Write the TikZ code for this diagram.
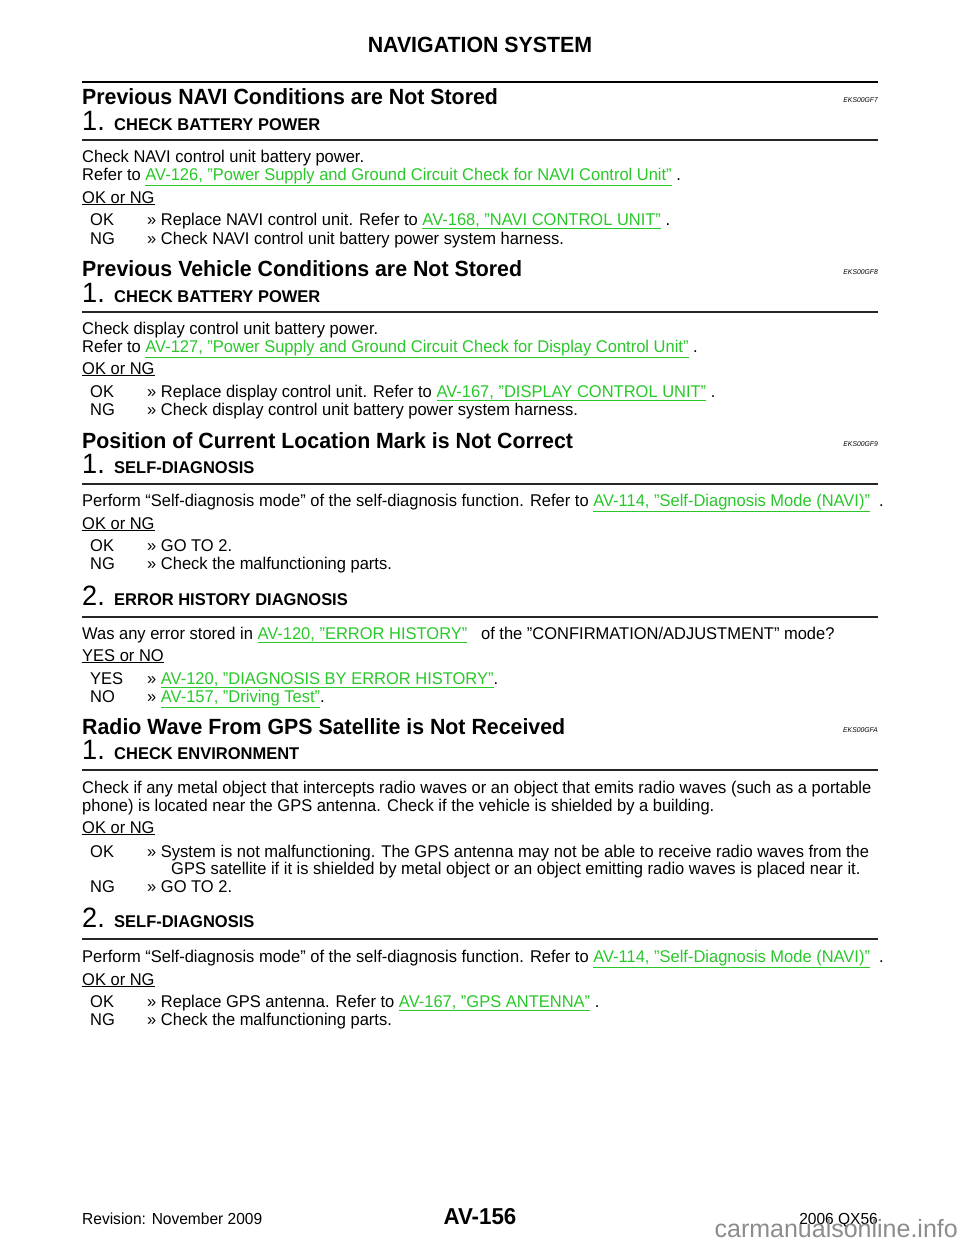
\documentclass[tikz,border=0pt]{standalone}
\usepackage{fontspec}
\setmainfont{Liberation Sans}[FakeStretch=0.97, Ligatures=ResetAll]
\newfontfamily\wmfont{Liberation Sans}
\definecolor{linkgreen}{RGB}{40,200,40}
\newcommand{\lnk}[1]{\textcolor{linkgreen}{\underline{#1}}}
\begin{document}
\begin{tikzpicture}[
    x=1pt, y=-1pt,
    txt/.style={anchor=base west, inner sep=0pt, font=\fontsize{17}{20}\selectfont},
    sechead/.style={anchor=base west, inner sep=0pt, font=\fontsize{22}{24}\selectfont\bfseries},
    stepnum/.style={anchor=base west, inner sep=0pt, font=\fontsize{28}{30}\selectfont},
    steptitle/.style={anchor=base west, inner sep=0pt, font=\fontsize{17}{20}\selectfont\bfseries},
    code/.style={anchor=base east, inner sep=0pt, font=\fontsize{7}{8}\selectfont\itshape},
    steprule/.style={line width=1.4pt, black!85},
]
\useasboundingbox (0,0) rectangle (960,1242);

% Kopf
\node[anchor=base, inner sep=0pt, font=\fontsize{22}{24}\selectfont\bfseries] (title) at (480,52) {NAVIGATION SYSTEM};
\draw[line width=2.5pt] (82,82) -- (878,82);

% Abschnitt 1
\node[sechead] (h1) at (82,104) {Previous NAVI Conditions are Not Stored};
\node[code] (c1) at (878,102) {EKS00GF7};
\node[stepnum] (n11) at (82,130) {1.};
\node[steptitle] (t11) at (114,130) {CHECK BATTERY POWER};
\draw[steprule] (82,140) -- (878,140);
\node[txt] (a1) at (82,162) {Check NAVI control unit battery power.};
\node[txt] (a2) at (82,180) {Refer to \lnk{AV-126, "Power Supply and Ground Circuit Check for NAVI Control Unit"} .};
\node[txt] (a3) at (82,203) {\underline{OK or NG}};
\node[txt] (a4) at (90,225) {OK};
\node[txt] (a5) at (147,225) {>> Replace NAVI control unit. Refer to \lnk{AV-168, "NAVI CONTROL UNIT"} .};
\node[txt] (a6) at (90,244) {NG};
\node[txt] (a7) at (147,244) {>> Check NAVI control unit battery power system harness.};

% Abschnitt 2
\node[sechead] (h2) at (82,276) {Previous Vehicle Conditions are Not Stored};
\node[code] (c2) at (878,274) {EKS00GF8};
\node[stepnum] (n21) at (82,302) {1.};
\node[steptitle] (t21) at (114,302) {CHECK BATTERY POWER};
\draw[steprule] (82,312) -- (878,312);
\node[txt] (b1) at (82,334) {Check display control unit battery power.};
\node[txt] (b2) at (82,352) {Refer to \lnk{AV-127, "Power Supply and Ground Circuit Check for Display Control Unit"} .};
\node[txt] (b3) at (82,374) {\underline{OK or NG}};
\node[txt] (b4) at (90,397) {OK};
\node[txt] (b5) at (147,397) {>> Replace display control unit. Refer to \lnk{AV-167, "DISPLAY CONTROL UNIT"} .};
\node[txt] (b6) at (90,415) {NG};
\node[txt] (b7) at (147,415) {>> Check display control unit battery power system harness.};

% Abschnitt 3
\node[sechead] (h3) at (82,448) {Position of Current Location Mark is Not Correct};
\node[code] (c3) at (878,446) {EKS00GF9};
\node[stepnum] (n31) at (82,473) {1.};
\node[steptitle] (t31) at (114,473) {SELF-DIAGNOSIS};
\draw[steprule] (82,484) -- (878,484);
\node[txt] (d1) at (82,506) {Perform “Self-diagnosis mode” of the self-diagnosis function. Refer to \lnk{AV-114, "Self-Diagnosis Mode (NAVI)"} \ .};
\node[txt] (d2) at (82,529) {\underline{OK or NG}};
\node[txt] (d3) at (90,551) {OK};
\node[txt] (d4) at (147,551) {>> GO TO 2.};
\node[txt] (d5) at (90,569) {NG};
\node[txt] (d6) at (147,569) {>> Check the malfunctioning parts.};
\node[stepnum] (n32) at (82,605) {2.};
\node[steptitle] (t32) at (114,605) {ERROR HISTORY DIAGNOSIS};
\draw[steprule] (82,617) -- (878,617);
\node[txt] (e1) at (82,639) {Was any error stored in \lnk{AV-120, "ERROR HISTORY"} \ \ of the "CONFIRMATION/ADJUSTMENT" mode?};
\node[txt] (e2) at (82,661) {\underline{YES or NO}};
\node[txt] (e3) at (90,684) {YES};
\node[txt] (e4) at (147,684) {>> \lnk{AV-120, "DIAGNOSIS BY ERROR HISTORY"}.};
\node[txt] (e5) at (90,702) {NO};
\node[txt] (e6) at (147,702) {>> \lnk{AV-157, "Driving Test"}.};

% Abschnitt 4
\node[sechead] (h4) at (82,734) {Radio Wave From GPS Satellite is Not Received};
\node[code] (c4) at (878,732) {EKS00GFA};
\node[stepnum] (n41) at (82,759) {1.};
\node[steptitle] (t41) at (114,759) {CHECK ENVIRONMENT};
\draw[steprule] (82,770) -- (878,770);
\node[txt] (f1) at (82,793) {Check if any metal object that intercepts radio waves or an object that emits radio waves (such as a portable};
\node[txt] (f2) at (82,811) {phone) is located near the GPS antenna. Check if the vehicle is shielded by a building.};
\node[txt] (f3) at (82,833) {\underline{OK or NG}};
\node[txt] (f4) at (90,857) {OK};
\node[txt] (f5) at (147,857) {>> System is not malfunctioning. The GPS antenna may not be able to receive radio waves from the};
\node[txt] (f6) at (171,874) {GPS satellite if it is shielded by metal object or an object emitting radio waves is placed near it.};
\node[txt] (f7) at (90,892) {NG};
\node[txt] (f8) at (147,892) {>> GO TO 2.};
\node[stepnum] (n42) at (82,927) {2.};
\node[steptitle] (t42) at (114,927) {SELF-DIAGNOSIS};
\draw[steprule] (82,939) -- (878,939);
\node[txt] (g1) at (82,962) {Perform “Self-diagnosis mode” of the self-diagnosis function. Refer to \lnk{AV-114, "Self-Diagnosis Mode (NAVI)"} \ .};
\node[txt] (g2) at (82,985) {\underline{OK or NG}};
\node[txt] (g3) at (90,1007) {OK};
\node[txt] (g4) at (147,1007) {>> Replace GPS antenna. Refer to \lnk{AV-167, "GPS ANTENNA"} .};
\node[txt] (g5) at (90,1025) {NG};
\node[txt] (g6) at (147,1025) {>> Check the malfunctioning parts.};

% Fuss
\node[txt, font=\fontsize{16}{18}\selectfont] (rev) at (82,1224) {Revision: November 2009};
\node[anchor=base, inner sep=0pt, font=\fontsize{23}{25}\selectfont\bfseries] (page) at (480,1224) {AV-156};
\node[anchor=base east, inner sep=0pt, font=\fontsize{16}{18}\selectfont] (model) at (878,1224) {2006 QX56};
\node[anchor=base east, inner sep=0pt, text=black!45, font=\wmfont\fontsize{25}{27}\selectfont] (wm) at (958,1237) {carmanualsonline.info};
\end{tikzpicture}
\end{document}
